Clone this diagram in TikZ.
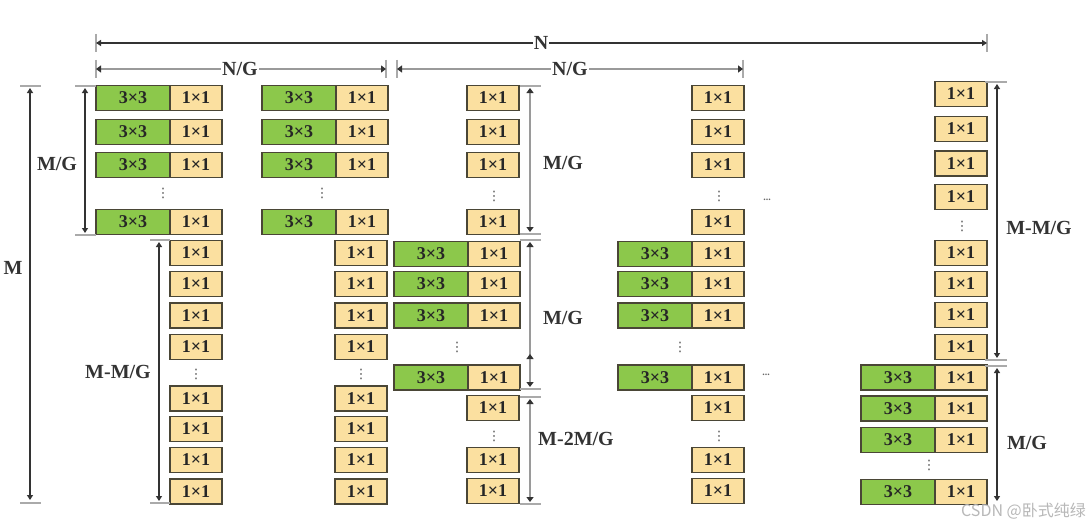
\documentclass[tikz,border=0pt]{standalone}
\usepackage{fontspec}
\setmainfont{Liberation Serif}
\newfontfamily\cjk{Noto Sans CJK SC}
\newfontfamily\symf{DejaVu Sans}
\usetikzlibrary{arrows.meta}
\definecolor{boxgreen}{HTML}{8CC84B}
\definecolor{boxyellow}{HTML}{FBE0A0}
\definecolor{boxline}{HTML}{4A4636}
\definecolor{dimdark}{HTML}{333333}
\definecolor{dimgray}{HTML}{9A9A9A}
\definecolor{tickgray}{HTML}{AAAAAA}
\newcommand\gyrow[3]{\node[g33] (#1-g) at ({#2+37},#3) {3×3};\node[y11] (#1-y) at ({#2+100},#3) {1×1};}
\newcommand\yrow[3]{\node[y11] (#1) at ({#2+26},#3) {1×1};}
\newcommand\dimV[5]{\coordinate (#1-a) at (#2,#3);\coordinate (#1-b) at (#2,#4);\draw[#5] (#1-a) -- (#1-b);}
\newcommand\dimH[5]{\coordinate (#1-a) at (#3,#2);\coordinate (#1-b) at (#4,#2);\draw[#5] (#1-a) -- (#1-b);}
\newcommand\tickH[4]{\coordinate (#1-l) at (#3,#2);\coordinate (#1-r) at (#4,#2);\draw[tick] (#1-l) -- (#1-r);}
\newcommand\tickV[4]{\coordinate (#1-t) at (#2,#3);\coordinate (#1-u) at (#2,#4);\draw[tick] (#1-t) -- (#1-u);}
\begin{document}
\begin{tikzpicture}[x=1pt,y=-1pt,
 cell/.style={draw=boxline,line width=1.6pt,minimum height=25pt,inner sep=0pt,
   font=\fontsize{18}{18}\selectfont\bfseries,text=black!85},
 g33/.style={cell,fill=boxgreen,minimum width=74pt},
 y11/.style={cell,fill=boxyellow,minimum width=52pt},
 vd/.style={font=\symf\fontsize{13}{13}\selectfont,inner sep=0pt,text=black!70},
 hd/.style={font=\fontsize{10}{10}\selectfont\bfseries,inner sep=0pt,text=black!60},
 lab/.style={font=\fontsize{20}{20}\selectfont\bfseries,inner sep=1pt,text=black!80},
 labw/.style={lab,fill=white},
 dimd/.style={draw=dimdark,line width=1.2pt,
   {Triangle[length=5pt,width=6pt]}-{Triangle[length=5pt,width=6pt]}},
 dimg/.style={draw=dimgray,line width=2.6pt,
   {Triangle[length=5pt,width=7pt,color=dimdark]}-{Triangle[length=5pt,width=7pt,color=dimdark]}},
 tick/.style={draw=tickgray,line width=2pt}]
\useasboundingbox (0,0) rectangle (1091,527);
\fill[white] (0,0) rectangle (1091,527);

% ---------- column A ----------
\foreach \yy [count=\i] in {98,132,165,222} {\gyrow{A\i}{96}{\yy}}
\node[vd] (Ad1) at (163,193) {⋮};
\foreach \yy [count=\i] in {253,284,315.5,347,398.5,429,460,491.5} {\yrow{Al\i}{170}{\yy}}
\node[vd] (Ad2) at (196,374) {⋮};
% ---------- column B ----------
\foreach \yy [count=\i] in {98,132,165,222} {\gyrow{B\i}{262}{\yy}}
\node[vd] (Bd1) at (322,193) {⋮};
\foreach \yy [count=\i] in {253,284,315.5,347,398.5,429,460,491.5} {\yrow{Bl\i}{335}{\yy}}
\node[vd] (Bd2) at (361,374) {⋮};
% ---------- column C ----------
\foreach \yy [count=\i] in {98,132,165,222} {\yrow{Ct\i}{467}{\yy}}
\node[vd] (Cd1) at (494,196) {⋮};
\foreach \yy [count=\i] in {254,284,315.5,377.5} {\gyrow{C\i}{394}{\yy}}
\node[vd] (Cd2) at (457,347) {⋮};
\foreach \yy [count=\i] in {408,460,491} {\yrow{Cl\i}{467}{\yy}}
\node[vd] (Cd3) at (494,436) {⋮};
% ---------- column D ----------
\foreach \yy [count=\i] in {98,132,165,222} {\yrow{Dt\i}{692}{\yy}}
\node[vd] (Dd1) at (719,196) {⋮};
\foreach \yy [count=\i] in {254,284,315.5,377.5} {\gyrow{D\i}{618}{\yy}}
\node[vd] (Dd2) at (680,347) {⋮};
\foreach \yy [count=\i] in {408,460,491} {\yrow{Dl\i}{692}{\yy}}
\node[vd] (Dd3) at (719,436) {⋮};
% ---------- column E ----------
\foreach \yy [count=\i] in {94,129,163.5,197,253,284,315,347} {\yrow{Et\i}{935}{\yy}}
\node[vd] (Ed1) at (962,226) {⋮};
\foreach \yy [count=\i] in {377.5,408.5,440,492} {\gyrow{E\i}{861}{\yy}}
\node[vd] (Ed2) at (929,465) {⋮};

% horizontal ellipses
\node[hd] (h1) at (767,200) {...};
\node[hd] (h2) at (766,375) {...};

% ---------- horizontal dimensions ----------
\tickV{tN1}{96}{34}{52}\tickV{tN2}{987}{34}{52}
\dimH{dN}{43}{96}{987}{dimd}
\node[labw] (lN) at (541,43) {N};
\tickV{tG1}{96}{60}{78}\tickV{tG2}{386}{60}{78}
\tickV{tG3}{397}{60}{78}\tickV{tG4}{743}{60}{78}
\dimH{dG1}{69}{96}{386}{dimg}
\dimH{dG2}{69}{397}{743}{dimg}
\node[labw] (lG1) at (240,69) {N/G};
\node[labw] (lG2) at (570,69) {N/G};

% ---------- left vertical dimensions ----------
\tickH{tM1}{86}{20}{41}\tickH{tM2}{503}{20}{41}
\dimV{dM}{30}{88}{500}{dimd}
\node[lab] (lM) at (13,268) {M};
\tickH{tA1}{86}{75}{96}\tickH{tA2}{235}{75}{96}
\dimV{dA}{85}{88}{233}{dimd}
\node[lab] (lA) at (57,164) {M/G};
\tickH{tB1}{240}{150}{170}\tickH{tB2}{503}{150}{170}
\dimV{dB}{159}{242}{501}{dimd}
\node[lab] (lB) at (118,372) {M-M/G};

% ---------- middle vertical dimensions ----------
\tickH{tC1}{86}{520}{541}\tickH{tC2}{234}{520}{541}
\tickH{tC3}{240}{520}{541}\tickH{tC4}{389}{520}{541}
\tickH{tC5}{397}{520}{541}\tickH{tC6}{504}{520}{541}
\dimV{dC1}{530}{88}{232}{dimg}
\dimV{dC2}{530}{242}{387}{dimg}
\dimV{dC3}{530}{399}{502}{dimg}
\coordinate (xa) at (530,368);\coordinate (xb) at (530,354);
\draw[draw=dimgray,line width=2.6pt,-{Triangle[length=5pt,width=7pt,color=dimdark]}] (xa) -- (xb);
\node[lab] (lC1) at (563,163) {M/G};
\node[lab] (lC2) at (563,318) {M/G};
\node[lab] (lC3) at (576,439) {M-2M/G};

% ---------- right vertical dimensions ----------
\tickH{tE1}{82}{985}{1007}\tickH{tE2}{360}{985}{1007}
\tickH{tE3}{366}{985}{1007}
\dimV{dE1}{997}{84}{358}{dimd}
\dimV{dE2}{997}{368}{501}{dimd}
\node[lab] (lE1) at (1039,228) {M-M/G};
\node[lab] (lE2) at (1027,443) {M/G};

% watermark
\node[font=\cjk\fontsize{16}{16}\selectfont,text=black!28,anchor=east,inner sep=0pt] (wm) at (1086,511) {CSDN @卧式纯绿};
\end{tikzpicture}
\end{document}
